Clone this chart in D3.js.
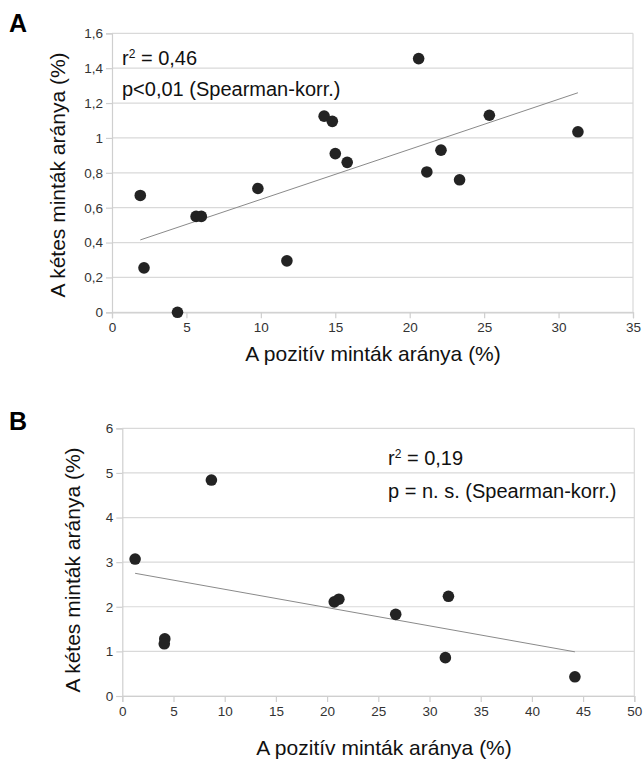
<!DOCTYPE html>
<html><head><meta charset="utf-8">
<script src="https://cdn.jsdelivr.net/npm/d3@7/dist/d3.min.js"></script>
<style>body{margin:0;background:#fff}svg{display:block}text{font-family:"Liberation Sans",Arial,sans-serif}</style>
</head><body><svg id="c" width="643" height="760"></svg>
<script>
// Panel A data
const aX = [1.9, 2.15, 4.4, 5.65, 6.0, 9.8, 11.75, 14.25, 14.8, 15.0, 15.8, 20.6, 21.15, 22.1, 23.35, 25.35, 31.3];
const aY = [0.67, 0.255, 0.0, 0.55, 0.55, 0.71, 0.295, 1.125, 1.095, 0.91, 0.86, 1.455, 0.805, 0.93, 0.76, 1.13, 1.035];
const aTrendX = [1.9, 31.3];
const aTrendY = [0.415, 1.259];
const aXTicks = [0, 5, 10, 15, 20, 25, 30, 35];
const aYTicks = [0, 0.2, 0.4, 0.6, 0.8, 1.0, 1.2, 1.4, 1.6];
// Panel B data
const bX = [1.25, 4.15, 4.1, 8.7, 20.7, 21.15, 26.7, 31.85, 31.55, 44.2];
const bY = [3.07, 1.28, 1.17, 4.84, 2.11, 2.17, 1.83, 2.235, 0.86, 0.43];
const bTrendX = [1.25, 44.2];
const bTrendY = [2.75, 0.99];
const bXTicks = [0, 5, 10, 15, 20, 25, 30, 35, 40, 45, 50];
const bYTicks = [0, 1, 2, 3, 4, 5, 6];

const xTitle = "A pozitív minták aránya (%)";
const yTitle = "A kétes minták aránya (%)";

const svg = d3.select("#c");
const fmt = d => String(d).replace(".", ",");

function panel(cfg) {
  const x = d3.scaleLinear().domain(cfg.xDom).range([cfg.left, cfg.right]);
  const y = d3.scaleLinear().domain(cfg.yDom).range([cfg.bottom, cfg.top]);
  const g = svg.append("g");
  g.selectAll(".gy").data(cfg.yTicks).join("line")
    .attr("x1", cfg.left).attr("x2", cfg.right)
    .attr("y1", d => y(d)).attr("y2", d => y(d))
    .attr("stroke", "#d9d9d9").attr("stroke-width", 1.2);
  g.append("line").attr("x1", cfg.right).attr("x2", cfg.right)
    .attr("y1", cfg.top).attr("y2", cfg.bottom).attr("stroke", "#d9d9d9").attr("stroke-width", 1.2);
  const ax = g.append("g").attr("transform", `translate(0,${cfg.bottom})`)
    .call(d3.axisBottom(x).tickValues(cfg.xTicks).tickFormat(fmt).tickSize(6).tickPadding(4));
  const ay = g.append("g").attr("transform", `translate(${cfg.left},0)`)
    .call(d3.axisLeft(y).tickValues(cfg.yTicks).tickFormat(fmt).tickSize(6).tickPadding(3));
  [ax, ay].forEach(a => {
    a.select(".domain").attr("stroke", "#cfcfcf").attr("stroke-width", 1.2);
    a.selectAll(".tick line").attr("stroke", "#cfcfcf").attr("stroke-width", 1.2);
    a.selectAll(".tick text").attr("fill", "#333").style("font-size", "13.5px")
      .style("font-family", '"Liberation Sans",Arial,sans-serif');
  });
  g.append("line")
    .attr("x1", x(cfg.tx[0])).attr("y1", y(cfg.ty[0]))
    .attr("x2", x(cfg.tx[1])).attr("y2", y(cfg.ty[1]))
    .attr("stroke", "#8a8a8a").attr("stroke-width", 1);
  g.selectAll("circle").data(cfg.xs).join("circle")
    .attr("cx", d => x(d)).attr("cy", (d, i) => y(cfg.ys[i]))
    .attr("r", 5.8).attr("fill", "#232323");
  g.append("text").attr("x", cfg.letterX).attr("y", cfg.letterY)
    .style("font-size", "25px").style("font-weight", "bold").text(cfg.letter);
  g.append("text").attr("x", cfg.xTitleCX).attr("y", cfg.xTitleY)
    .attr("text-anchor", "middle").style("font-size", "21px").attr("fill", "#111").text(xTitle);
  g.append("text").attr("transform", `translate(${cfg.yTitleX},${cfg.yTitleCY}) rotate(-90)`)
    .attr("text-anchor", "middle").style("font-size", "21px").attr("fill", "#111").text(yTitle);
  const t1 = g.append("text").attr("x", cfg.annX).attr("y", cfg.annY1).style("font-size", "20px").attr("fill", "#111");
  t1.append("tspan").text("r");
  t1.append("tspan").attr("dy", -7).style("font-size", "12px").text("2");
  t1.append("tspan").attr("dy", 7).text(" = " + cfg.r2);
  g.append("text").attr("x", cfg.annX).attr("y", cfg.annY2).style("font-size", "20px").attr("fill", "#111").text(cfg.pText);
}

panel({
  xDom: [0, 35], yDom: [0, 1.6], left: 112, right: 633, top: 33.3, bottom: 312.3,
  xTicks: aXTicks, yTicks: aYTicks, xs: aX, ys: aY, tx: aTrendX, ty: aTrendY,
  letter: "A", letterX: 9, letterY: 32, xTitleY: 361, xTitleCX: 373, yTitleX: 65, yTitleCY: 175,
  annX: 122, annY1: 65, annY2: 96, r2: "0,46", pText: "p<0,01 (Spearman-korr.)"
});
panel({
  xDom: [0, 50], yDom: [0, 6], left: 122.3, right: 634.3, top: 428.3, bottom: 696,
  xTicks: bXTicks, yTicks: bYTicks, xs: bX, ys: bY, tx: bTrendX, ty: bTrendY,
  letter: "B", letterX: 9, letterY: 430, xTitleY: 755, xTitleCX: 384, yTitleX: 80, yTitleCY: 570,
  annX: 388, annY1: 465, annY2: 498, r2: "0,19", pText: "p = n. s. (Spearman-korr.)"
});
</script></body></html>
